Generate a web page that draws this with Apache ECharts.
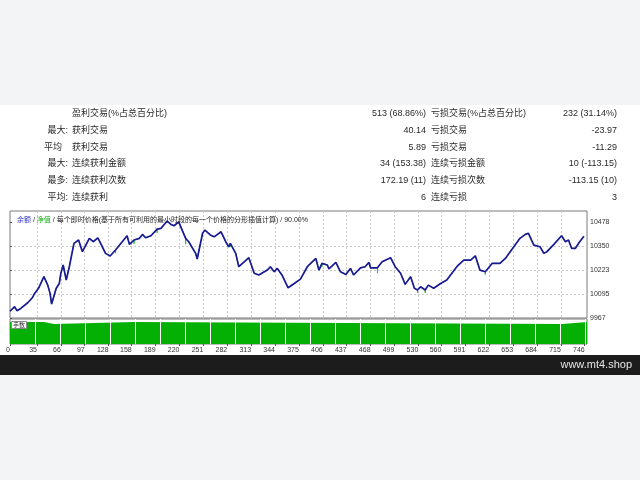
<!DOCTYPE html>
<html><head><meta charset="utf-8">
<script src="https://cdn.jsdelivr.net/npm/echarts@6.0.0/dist/echarts.min.js"></script>
<style>
html,body{margin:0;padding:0;}
#c{width:640px;height:480px;background:linear-gradient(to bottom,#f3f4f5 0,#f3f4f5 105px,#ffffff 105px,#ffffff 355px,#1c1c1c 355px,#1c1c1c 375px,#f3f4f5 375px,#f3f4f5 480px);}
</style></head><body><div id="c"></div>
<script>
// ---- data ----
const tradeNo = [0,6,9,14,23,29,32,37,44,49,52,54,60,64,66,69,73,77,83,89,94,103,108,114,117,124,130,137,152,155,161,168,172,176,183,191,196,204,209,213,219,228,232,241,243,250,253,260,265,274,280,284,286,293,297,304,310,317,323,334,338,343,347,353,361,369,377,386,397,401,405,412,414,423,429,436,442,446,455,461,466,468,477,483,494,500,507,513,520,525,529,533,539,543,550,559,567,580,589,598,604,610,617,626,636,643,654,662,669,673,680,688,693,697,706,716,721,725,729,734,739,745];
const balance = [10003,10027,10006,10018,10048,10075,10098,10125,10187,10142,10098,10041,10125,10151,10205,10249,10169,10240,10364,10382,10320,10391,10373,10394,10370,10311,10297,10329,10405,10359,10382,10391,10412,10394,10405,10440,10444,10483,10465,10458,10479,10391,10373,10311,10281,10418,10435,10409,10399,10426,10373,10346,10364,10311,10240,10266,10288,10205,10196,10222,10240,10213,10231,10196,10128,10151,10174,10240,10284,10222,10258,10249,10228,10263,10213,10199,10231,10196,10234,10240,10263,10234,10234,10266,10288,10240,10205,10146,10187,10125,10116,10133,10116,10142,10125,10151,10169,10240,10275,10275,10298,10222,10213,10258,10258,10284,10346,10391,10412,10418,10355,10346,10311,10320,10359,10405,10373,10382,10338,10338,10370,10402];
// equity dips: [balance point index, equity value]
const equityDips = [[27,10312],[30,10362],[35,10420],[41,10360],[52,10345],[70,10240],[82,10206],[90,10100],[92,10100],[102,10198]];
const lotTrades = [0,44,57,161,717,749];
const lotSizes  = [0.11,0.10,0.11,0.10,0.11,0.11];
const xTickLabels = [0,35,66,97,128,158,189,220,251,282,313,344,375,406,437,468,499,530,560,591,622,653,684,715,746];
const yTickLabels = [9967,10095,10223,10350,10478];
const statPrefix = ['', '最大:', '平均', '最大:', '最多:', '平均:'];
const winLabels  = ['盈利交易(%占总百分比)','获利交易','获利交易','连续获利金额','连续获利次数','连续获利'];
const winValues  = ['513 (68.86%)','40.14','5.89','34 (153.38)','172.19 (11)','6'];
const lossLabels = ['亏损交易(%占总百分比)','亏损交易','亏损交易','连续亏损金额','连续亏损次数','连续亏损'];
const lossValues = ['232 (31.14%)','-23.97','-11.29','10 (-113.15)','-113.15 (10)','3'];
const chartTitle = '{b|余额} / {g|净值} / 每个即时价格(基于所有可利用的最小时段的每一个价格的分形插值计算) / 90.00%';
const lotLabel = '手数';
const watermark = 'www.mt4.shop';

// ---- build ----
const balData = tradeNo.map((t,i)=>[t,balance[i]]);
const eqData = [];
tradeNo.forEach((t,i)=>{
  eqData.push([t,balance[i]]);
  const d = equityDips.find(e=>e[0]===i);
  if(d){ eqData.push([t,d[1]]); eqData.push([t,balance[i]]); }
});
// step shape built from the lot table (value holds until next change)
const lotData = [];
lotTrades.forEach((t,i)=>{
  if(i>0) lotData.push([t,lotSizes[i-1]]);
  lotData.push([t,lotSizes[i]]);
});

const FONT = 'Liberation Sans, Arial, "Noto Sans CJK SC", sans-serif';
const rowY = [114,131,147.5,164,181,198];
const graphics = [];
rowY.forEach((y,i)=>{
  const mk = (text,x,align)=>({type:'text', x:x, y:y, z:50, style:{text:text, font:'9px '+FONT, fill:'#2a2a2a', textAlign:align, align:align, textVerticalAlign:'middle', verticalAlign:'middle'}});
  if(statPrefix[i]) graphics.push(mk(statPrefix[i], i===2?62:68, 'right'));
  graphics.push(mk(winLabels[i], 72, 'left'));
  graphics.push(mk(winValues[i], 426, 'right'));
  graphics.push(mk(lossLabels[i], 431, 'left'));
  graphics.push(mk(lossValues[i], 617, 'right'));
});
graphics.push({type:'rect', z:100, shape:{x:11.5,y:321.5,width:15,height:7}, style:{fill:'#ffffff', stroke:'#8a8a8a', lineWidth:1}});
graphics.push({type:'text', z:101, x:19, y:325, style:{text:lotLabel, font:'6px "Noto Sans CJK SC"', fill:'#333', textAlign:'center', align:'center', textVerticalAlign:'middle', verticalAlign:'middle'}});
graphics.push({type:'text', z:100, x:632, y:365, style:{text:watermark, font:'11px Liberation Sans, Arial, sans-serif', fill:'#e6e6e6', textAlign:'right', align:'right', textVerticalAlign:'middle', verticalAlign:'middle'}});

const gridLine = {color:'#c9c9c9', type:[2,2], width:1};
const plain = v => String(Math.round(v));
const option = {
  animation:false,
  backgroundColor:'transparent',
  title:{left:12, top:212, text:chartTitle, textStyle:{fontSize:7, color:'#222', fontWeight:'normal', fontFamily:FONT, rich:{b:{color:'#3535c8', fontSize:7, fontFamily:FONT}, g:{color:'#18b018', fontSize:7, fontFamily:FONT}}}},
  grid:[
    {left:10, right:53, top:211, height:107, show:true, borderColor:'#7a7a7a', borderWidth:1, backgroundColor:'#ffffff'},
    {left:10, right:53, top:319, height:25, show:true, borderColor:'#7a7a7a', borderWidth:1, backgroundColor:'#ffffff'}
  ],
  xAxis:[
    {gridIndex:0, type:'value', min:0, max:749, axisLine:{show:false}, axisLabel:{show:false},
     axisTick:{show:false, customValues:xTickLabels}, splitLine:{show:true, showMinLine:false, showMaxLine:false, lineStyle:gridLine}},
    {gridIndex:1, type:'value', min:0, max:749, position:'bottom', axisLine:{show:false},
     axisTick:{show:true, customValues:xTickLabels, length:2, lineStyle:{color:'#555'}},
     axisLabel:{customValues:xTickLabels, fontSize:7, color:'#333', fontFamily:FONT, margin:3, align:'right', formatter:plain},
     splitLine:{show:false}},
    {gridIndex:1, type:'value', min:0, max:749, interval:32.45, axisLine:{show:false}, axisTick:{show:false}, axisLabel:{show:false},
     splitLine:{show:true, showMinLine:false, showMaxLine:false, lineStyle:{color:'#ffffff', width:1}}, z:5}
  ],
  yAxis:[
    {gridIndex:0, type:'value', min:9967, max:10536.6, position:'right', axisLine:{show:false},
     axisTick:{show:true, customValues:yTickLabels, length:2, lineStyle:{color:'#555'}},
     axisLabel:{customValues:yTickLabels, fontSize:7, color:'#333', margin:3, fontFamily:FONT, formatter:plain},
     splitLine:{show:true, showMinLine:false, showMaxLine:false, lineStyle:gridLine}},
    {gridIndex:1, type:'value', min:0, max:0.125, show:false}
  ],
  graphic:graphics,
  series:[
    {type:'line', xAxisIndex:0, yAxisIndex:0, data:eqData, showSymbol:false, lineStyle:{color:'#2fc02f', width:1}, z:2},
    {type:'line', xAxisIndex:0, yAxisIndex:0, data:balData, showSymbol:false, lineStyle:{color:'#1a1a96', width:1.7}, z:3},
    {type:'line', xAxisIndex:2, yAxisIndex:1, data:lotData, showSymbol:false, lineStyle:{width:0}, areaStyle:{color:'#04b004', opacity:1}, z:2}
  ]
};
const chart = echarts.init(document.getElementById('c'));
chart.setOption(option);
</script></body></html>
